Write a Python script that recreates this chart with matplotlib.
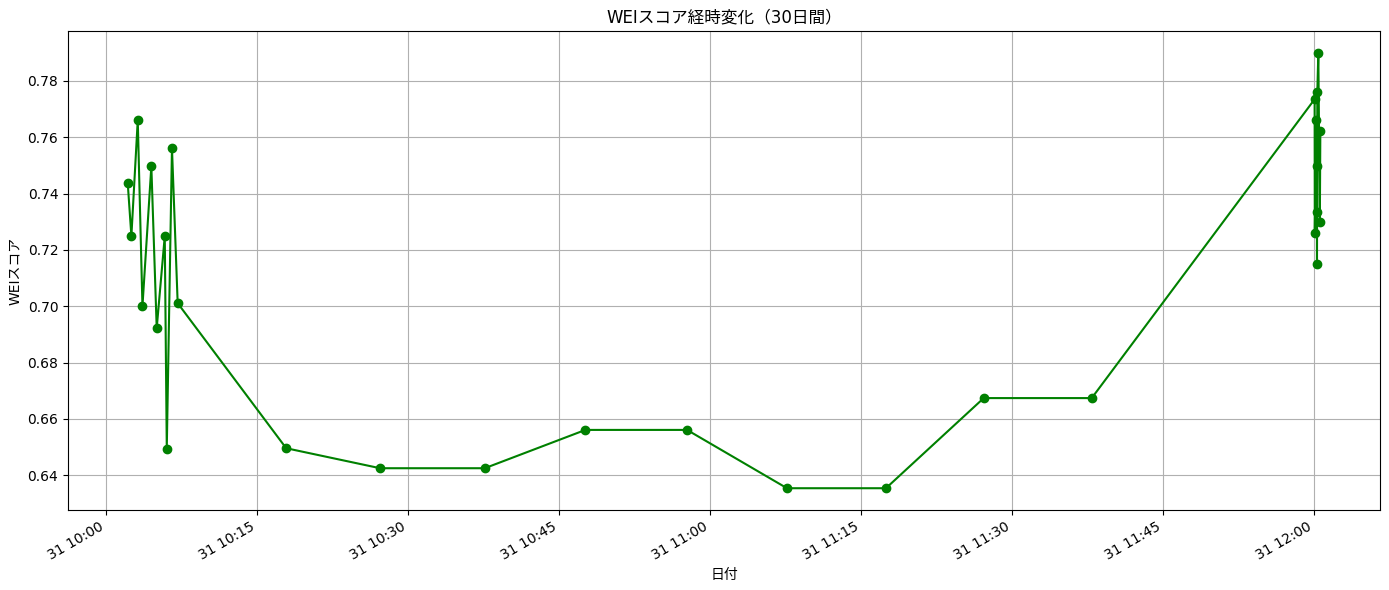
import matplotlib.pyplot as plt
import pandas as pd

plt.rcParams['font.family'] = ['DejaVu Sans', 'Noto Sans CJK JP']

# ------ data -----
times = [
    '2024-01-31 10:02:07', '2024-01-31 10:02:29', '2024-01-31 10:03:07',
    '2024-01-31 10:03:35', '2024-01-31 10:04:28', '2024-01-31 10:05:00',
    '2024-01-31 10:05:48', '2024-01-31 10:06:00', '2024-01-31 10:06:31',
    '2024-01-31 10:07:05', '2024-01-31 10:17:52', '2024-01-31 10:27:12',
    '2024-01-31 10:37:36', '2024-01-31 10:47:36', '2024-01-31 10:57:42',
    '2024-01-31 11:07:38', '2024-01-31 11:17:28', '2024-01-31 11:27:11',
    '2024-01-31 11:37:55', '2024-01-31 12:00:04', '2024-01-31 12:00:05',
    '2024-01-31 12:00:14', '2024-01-31 12:00:16', '2024-01-31 12:00:17',
    '2024-01-31 12:00:18', '2024-01-31 12:00:20', '2024-01-31 12:00:26',
    '2024-01-31 12:00:35', '2024-01-31 12:00:38',
]
scores = [
    0.7439, 0.7249, 0.7661, 0.7000, 0.7497, 0.6922, 0.7249, 0.6495, 0.7561,
    0.7011, 0.6496, 0.6425, 0.6425, 0.6561, 0.6561, 0.6354, 0.6354, 0.6674,
    0.6674, 0.7735, 0.7261, 0.7661, 0.7336, 0.7498, 0.7149, 0.7760, 0.7900,
    0.7298, 0.7622,
]
# ------------------------------------

dates = pd.to_datetime(times)

fig = plt.figure(figsize=(13.89, 5.9), dpi=100)
plt.plot(dates, scores, marker='o', color='green')
plt.title('WEIスコア経時変化（30日間）')
plt.xlabel('日付')
plt.ylabel('WEIスコア')
plt.grid(True)
fig.autofmt_xdate()
plt.subplots_adjust(left=0.049, right=0.9935, top=0.9475, bottom=0.1356)
plt.savefig('out.png', dpi=100)
